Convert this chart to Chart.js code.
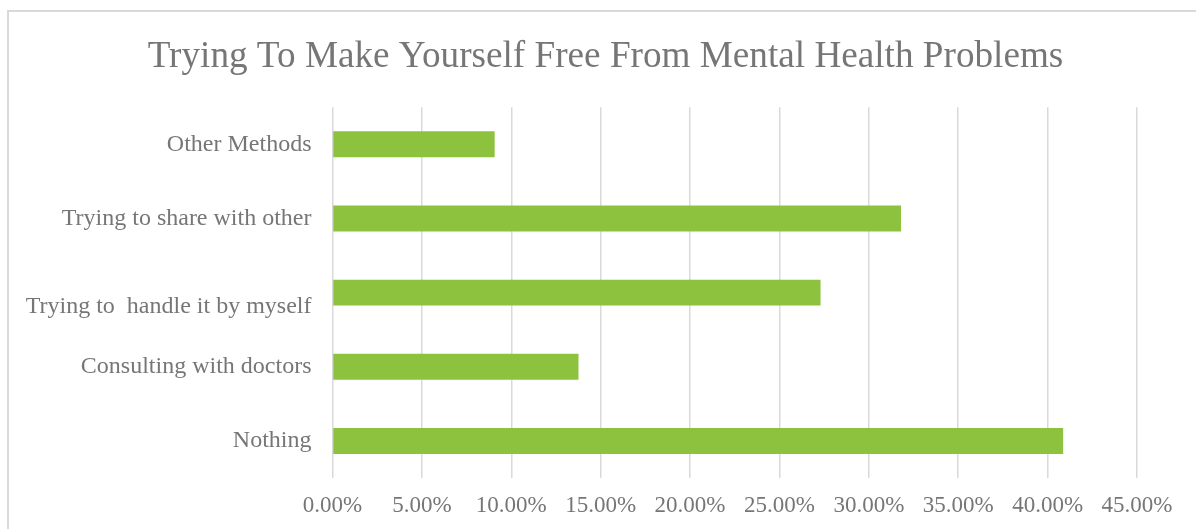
<!DOCTYPE html>
<html>
<head>
<meta charset="utf-8">
<script src="https://cdn.jsdelivr.net/npm/chart.js@4"></script>
<style>
  html, body { margin: 0; padding: 0; background: #fff; overflow: hidden; }
  #wrap { position: relative; width: 1196px; height: 529px; }
  #frame { position: absolute; left: 7px; top: 10px; width: 1300px; height: 600px;
           border: 2px solid #d9d9d9; box-sizing: border-box; }
  canvas { position: absolute; left: 0; top: 0; }
</style>
</head>
<body>
<div id="wrap">
  <div id="frame"></div>
  <canvas id="chart" width="1196" height="529"></canvas>
</div>
<script>
const categories = [
  'Other Methods',
  'Trying to share with other',
  ['', 'Trying to  handle it by myself'],
  'Consulting with doctors',
  'Nothing'
];
const shares = [9.07, 31.8, 27.3, 13.76, 40.87];
const xTicks = [0, 5, 10, 15, 20, 25, 30, 35, 40, 45];

const textGray = '#767676';
const serif = "'Liberation Serif', 'DejaVu Serif', serif";

// the title sits a bit right of the canvas centre in the original
const shiftTitle = {
  id: 'shiftTitle',
  afterLayout(chart) {
    const t = chart.titleBlock;
    if (t) { t.left = 74; t.right = 1137; }
  }
};

const ctx = document.getElementById('chart').getContext('2d');
new Chart(ctx, {
  type: 'bar',
  data: {
    labels: categories,
    datasets: [{
      label: 'Share',
      data: shares,
      backgroundColor: '#8DC23F',
      barPercentage: 0.35,
      categoryPercentage: 1.0
    }]
  },
  options: {
    indexAxis: 'y',
    responsive: false,
    animation: false,
    layout: { padding: { top: 35, right: 59, bottom: 0, left: 0 } },
    plugins: {
      legend: { display: false },
      tooltip: { enabled: false },
      title: {
        display: true,
        text: 'Trying To Make Yourself Free From Mental Health Problems',
        color: textGray,
        font: { family: serif, size: 37.2, weight: 'normal' },
        padding: { top: 0, bottom: 27.6 }
      }
    },
    scales: {
      x: {
        min: 0,
        max: 45,
        afterBuildTicks: (scale) => { scale.ticks = xTicks.map(v => ({ value: v })); },
        afterFit: (scale) => { scale.height = 51; },
        border: { display: false },
        grid: { color: '#d9d9d9', lineWidth: 1.5, drawTicks: false },
        ticks: {
          color: textGray,
          font: { family: serif, size: 23 },
          padding: 14,
          callback: (v) => v.toFixed(2) + '%'
        }
      },
      y: {
        afterFit: (scale) => { scale.width = 332.5; },
        border: { display: false },
        grid: { display: false, drawTicks: false },
        ticks: {
          color: textGray,
          font: { family: serif, size: 24 },
          padding: 21
        }
      }
    }
  },
  plugins: [shiftTitle]
});
</script>
</body>
</html>
